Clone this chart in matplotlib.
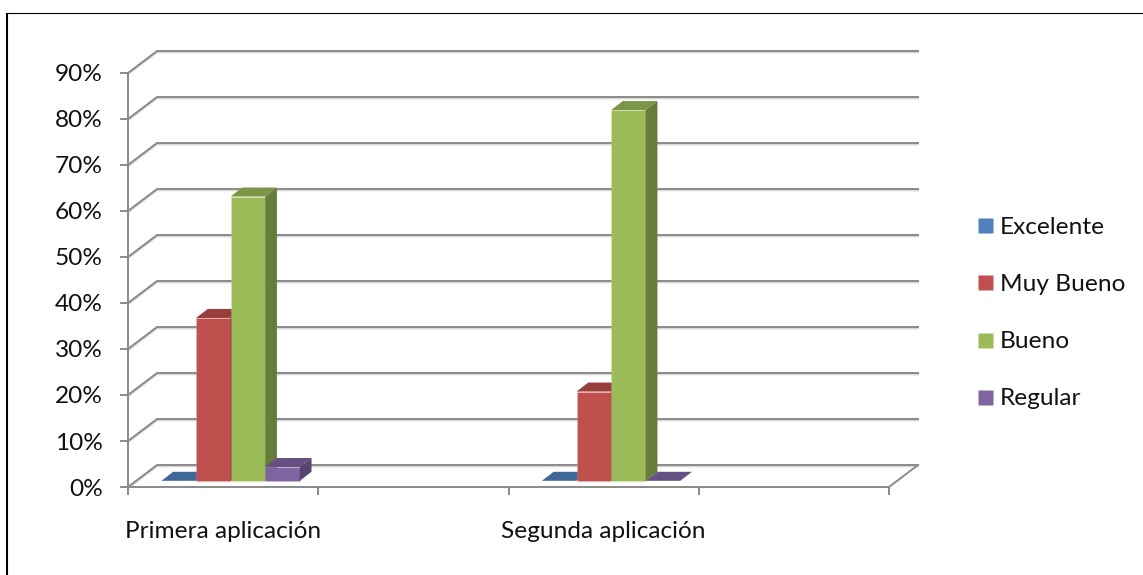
import matplotlib
matplotlib.use('Agg')
import matplotlib.pyplot as plt
import matplotlib.patheffects as pe
from matplotlib.lines import Line2D
from matplotlib.patches import Polygon

plt.rcParams['font.family'] = ['Lato', 'DejaVu Sans']

categories = ['Primera aplicación', '', 'Segunda aplicación', '']
series_names = ['Excelente', 'Muy Bueno', 'Bueno', 'Regular']
excelente = [0, None, 0, None]
muy_bueno = [35.4, None, 19.4, None]
bueno = [61.8, None, 80.6, None]
regular = [3, None, 0, None]
y_ticks = [0, 10, 20, 30, 40, 50, 60, 70, 80, 90]

front_colors = ['#4F81BD', '#C0504D', '#9BBB59', '#8064A2']
top_colors = ['#3F6797', '#983E3C', '#7A9646', '#664F82']
side_colors = ['#355680', '#7F3432', '#667C3A', '#574570']
axis_gray = '#8A8A8A'
font_size = 17.6

W, H = 1143, 575
fig = plt.figure(figsize=(W / 100, H / 100), dpi=100)
# plot box in pixels: x 128-889, 0% at y=487, 90% at y=73
ax = fig.add_axes([128 / W, 1 - 487 / H, 761 / W, 414 / H])
ax.set_xlim(0, 4)
ax.set_ylim(0, 90)

# pixel sizes in data units
px_x = 4 / 761
px_y = 90 / 414
wall_dx, wall_dy = 29 * px_x, 22 * px_y
bar_dx, bar_dy = 11.7 * px_x, 9 * px_y
base_dx, base_dy = 7.5 * px_x, 6.2 * px_y
bar_w = 34.6 * px_x

shadow = [pe.SimpleLineShadow(offset=(0, -1), shadow_color='#808080', alpha=0.3), pe.Normal()]

# back wall lines with their slanted part on the left
for v in y_ticks:
    ax.plot([0, wall_dx, 4 + wall_dx], [v, v + wall_dy, v + wall_dy], color=axis_gray, lw=1.4,
            clip_on=False, zorder=1, path_effects=shadow, solid_joinstyle='miter')
ax.plot([4, 4 + wall_dx], [0, wall_dy], color=axis_gray, lw=1.4, clip_on=False, zorder=1)

# bars, one cuboid per value
all_series = [excelente, muy_bueno, bueno, regular]
for s, values in enumerate(all_series):
    for c, v in enumerate(values):
        if v is None:
            continue
        left = c + 0.5 + base_dx + (s - 2) * bar_w
        right = left + bar_w
        bottom = base_dy
        top = bottom + v
        ax.bar(left, v, bar_w, bottom=bottom, align='edge', color=front_colors[s],
               edgecolor=(1, 1, 1, 0.12), lw=0.6, clip_on=False, zorder=3 + s)
        ax.add_patch(Polygon([(left, top), (right, top), (right + bar_dx, top + bar_dy),
                              (left + bar_dx, top + bar_dy)], closed=True, fc=top_colors[s],
                             ec='none', clip_on=False, zorder=3 + s))
        if v > 0:
            ax.add_patch(Polygon([(right, bottom), (right + bar_dx, bottom + bar_dy),
                                  (right + bar_dx, top + bar_dy), (right, top)], closed=True,
                                 fc=side_colors[s], ec='none', clip_on=False, zorder=3 + s))

for name in ['top', 'right']:
    ax.spines[name].set_visible(False)
for name in ['left', 'bottom']:
    ax.spines[name].set_color(axis_gray)
    ax.spines[name].set_linewidth(1.4)
    ax.spines[name].set_zorder(2)

ax.set_yticks(y_ticks)
ax.set_yticklabels([str(v) + '%' for v in y_ticks])
ax.tick_params(axis='y', length=6, width=1.4, color=axis_gray, pad=12, labelsize=font_size, labelcolor='#111111')
ax.set_xticks([0, 1, 2, 3, 4])
ax.set_xticklabels([])
ax.tick_params(axis='x', which='major', length=6, width=1.4, color=axis_gray)
ax.set_xticks([0.5, 1.5, 2.5, 3.5], minor=True)
ax.set_xticklabels(categories, minor=True)
ax.tick_params(axis='x', which='minor', length=0, pad=24.7, labelsize=font_size, labelcolor='#111111')

handles = [Line2D([], [], ls='none', marker='s', ms=10.8, mfc=col, mec='none') for col in front_colors]
fig.legend(handles, series_names, loc='center left', bbox_to_anchor=(977 / W, 1 - 313 / H), frameon=False,
           fontsize=font_size, labelspacing=1.48, handlelength=0.615, handletextpad=0.33,
           borderpad=0, borderaxespad=0, labelcolor='#111111')

# black frame of the page, top and left only
fig.add_artist(Line2D([7 / W, 7 / W], [0, 1 - 12.5 / H], color='black', lw=1.5, solid_capstyle='butt'))
fig.add_artist(Line2D([6 / W, 1], [1 - 12.5 / H, 1 - 12.5 / H], color='black', lw=0.8, solid_capstyle='butt'))

fig.savefig('out.png', dpi=100)
